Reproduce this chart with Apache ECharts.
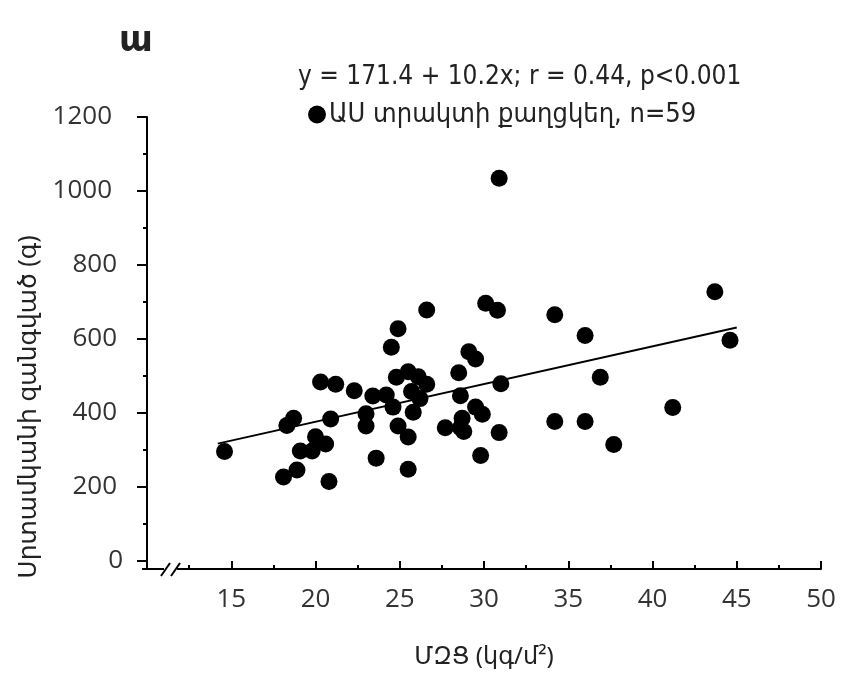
<!DOCTYPE html>
<html>
<head>
<meta charset="utf-8">
<script src="https://cdn.jsdelivr.net/npm/echarts@6/dist/echarts.min.js"></script>
<style>
html,body{margin:0;padding:0;background:#fff;}
#chart{width:842px;height:674px;}
</style>
</head>
<body>
<div id="chart"></div>
<script>
// ---- data ----
const bmi  = [14.6,20.3,21.2,22.3,23.4,18.7,18.3,20.9,23.0,23.0,20.0,20.6,19.1,19.8,18.9,18.1,20.8,23.6,
              26.6,30.1,30.8,34.2,36.0,24.9,24.5,29.1,29.5,28.5,24.8,25.5,26.1,26.6,25.7,26.2,24.2,24.6,25.8,
              28.6,31.0,29.5,29.9,28.7,28.6,28.8,27.7,30.9,24.9,25.5,29.8,25.5,34.2,36.0,36.9,37.7,
              41.2,43.7,44.6,30.9];
const heartMass = [295,483,477,459,445,385,365,383,397,364,335,315,296,296,245,226,214,277,
              678,696,677,665,609,627,577,565,545,508,496,511,497,477,457,438,448,415,401,
              446,478,415,396,385,359,349,359,346,364,334,284,247,376,376,496,314,
              414,727,596,1034];
const seriesName = 'ԱՍ տրակտի քաղցկեղ, n=59';
const fitIntercept = 171.4, fitSlope = 10.2;     // from the equation printed on the chart
const fitX = [14.2, 45.0];                          // extent of the drawn fit line
const xTickLabels = [15,20,25,30,35,40,45,50];
const yTickLabels = [0,200,400,600,800,1000,1200];
const yMinorTicks = [100,300,500,700,900,1100];
const panelLetter = 'ա';
const equationText = 'y = 171.4 + 10.2x; r = 0.44, p<0.001';
const xName = 'ՄԶՑ (կգ/մ²)';
const yName = 'Սրտամկանի զանգված (գ)';

// ---- chart ----
const chart = echarts.init(document.getElementById('chart'), null, {renderer:'canvas'});
const points = bmi.map((v,i)=>[v, heartMass[i]]);
const fitLine = fitX.map(x=>[x, fitIntercept + fitSlope*x]);
const labelFont = "'Open Sans', 'Noto Sans', sans-serif";
const armFont = "'Noto Sans', 'DejaVu Sans', sans-serif";
const narrowFont = "'Liberation Sans Narrow', 'DejaVu Sans Condensed', 'Open Sans', sans-serif";

const GL = 147, GT = 117, GW = 674, GH = 452;

chart.setOption({
  animation:false,
  backgroundColor:'#fff',
  title:[
    {text: panelLetter, left:114, top:18, textStyle:{fontFamily:armFont, fontSize:36, fontWeight:'bold', color:'#222'}},
    {text: equationText, left:293, top:59, textStyle:{fontFamily:narrowFont, fontSize:26, fontWeight:'normal', color:'#222'}}
  ],
  legend:{
    data:[seriesName], left:303, top:96, icon:'circle', itemWidth:18, itemHeight:18, itemGap:0,
    textStyle:{fontFamily:narrowFont, fontSize:27, color:'#222', padding:[0,0,0,-2]}
  },
  grid:{left:GL, top:GT, width:GW, height:GH, containLabel:false},
  xAxis:{
    type:'value', min:10, max:50, interval:5,
    name:xName, nameLocation:'middle', nameGap:76,
    nameTextStyle:{fontFamily:armFont, fontSize:24, color:'#222'},
    axisLine:{show:true, onZero:false, lineStyle:{color:'#000', width:2}},
    axisTick:{show:true, inside:true, length:8, lineStyle:{color:'#000', width:2}},
    minorTick:{show:true, splitNumber:2, length:4, lineStyle:{color:'#000', width:2}},
    axisLabel:{margin:18, fontFamily:labelFont, fontSize:26, color:'#333',
      formatter:v=> xTickLabels.indexOf(v)>=0 ? String(v) : ''},
    splitLine:{show:false}
  },
  yAxis:[{
    type:'value', min:-23, max:1200,
    name:yName, nameLocation:'middle', nameGap:104, nameRotate:90,
    nameTextStyle:{fontFamily:armFont, fontSize:25, color:'#222', padding:[0,128,0,0]},
    axisLine:{show:true, onZero:false, lineStyle:{color:'#000', width:2}},
    axisTick:{show:true, length:10, customValues:yTickLabels, lineStyle:{color:'#000', width:2}},
    axisLabel:{margin:24, fontFamily:labelFont, fontSize:26, color:'#333', customValues:yTickLabels,
      formatter:v=> v===0 ? '{c|0}' : (v>=1000 ? '{a|'+v+'}' : '{b|'+v+'}'),
      rich:{
        a:{fontFamily:labelFont, fontSize:26, color:'#333', padding:[0,11,0,0]},
        b:{fontFamily:labelFont, fontSize:26, color:'#333', padding:[0,6,0,0]},
        c:{fontFamily:labelFont, fontSize:26, color:'#333'}
      }},
    splitLine:{show:false}
  },{
    type:'value', min:-23, max:1200, position:'left',
    axisLine:{show:false},
    axisTick:{show:true, length:4, customValues:yMinorTicks, lineStyle:{color:'#000', width:2}},
    axisLabel:{show:false},
    splitLine:{show:false}
  }],
  series:[
    {name:seriesName, type:'scatter', data:points, symbol:'circle', symbolSize:17,
     itemStyle:{color:'#000', opacity:1}, z:3},
    {name:'fit', type:'line', data:fitLine, showSymbol:false, symbol:'none',
     lineStyle:{color:'#000', width:2}, z:2, silent:true}
  ],
  graphic:[
    {type:'rect', shape:{x:164, y:564, width:13, height:11}, style:{fill:'#fff'}, z:100},
    {type:'line', shape:{x1:161, y1:576, x2:170, y2:563}, style:{stroke:'#000', lineWidth:2}, z:101},
    {type:'line', shape:{x1:171, y1:576, x2:180, y2:563}, style:{stroke:'#000', lineWidth:2}, z:101},
    {type:'line', shape:{x1:142, y1:569, x2:148, y2:569}, style:{stroke:'#000', lineWidth:2}, z:101}
  ]
});
</script>
</body>
</html>
